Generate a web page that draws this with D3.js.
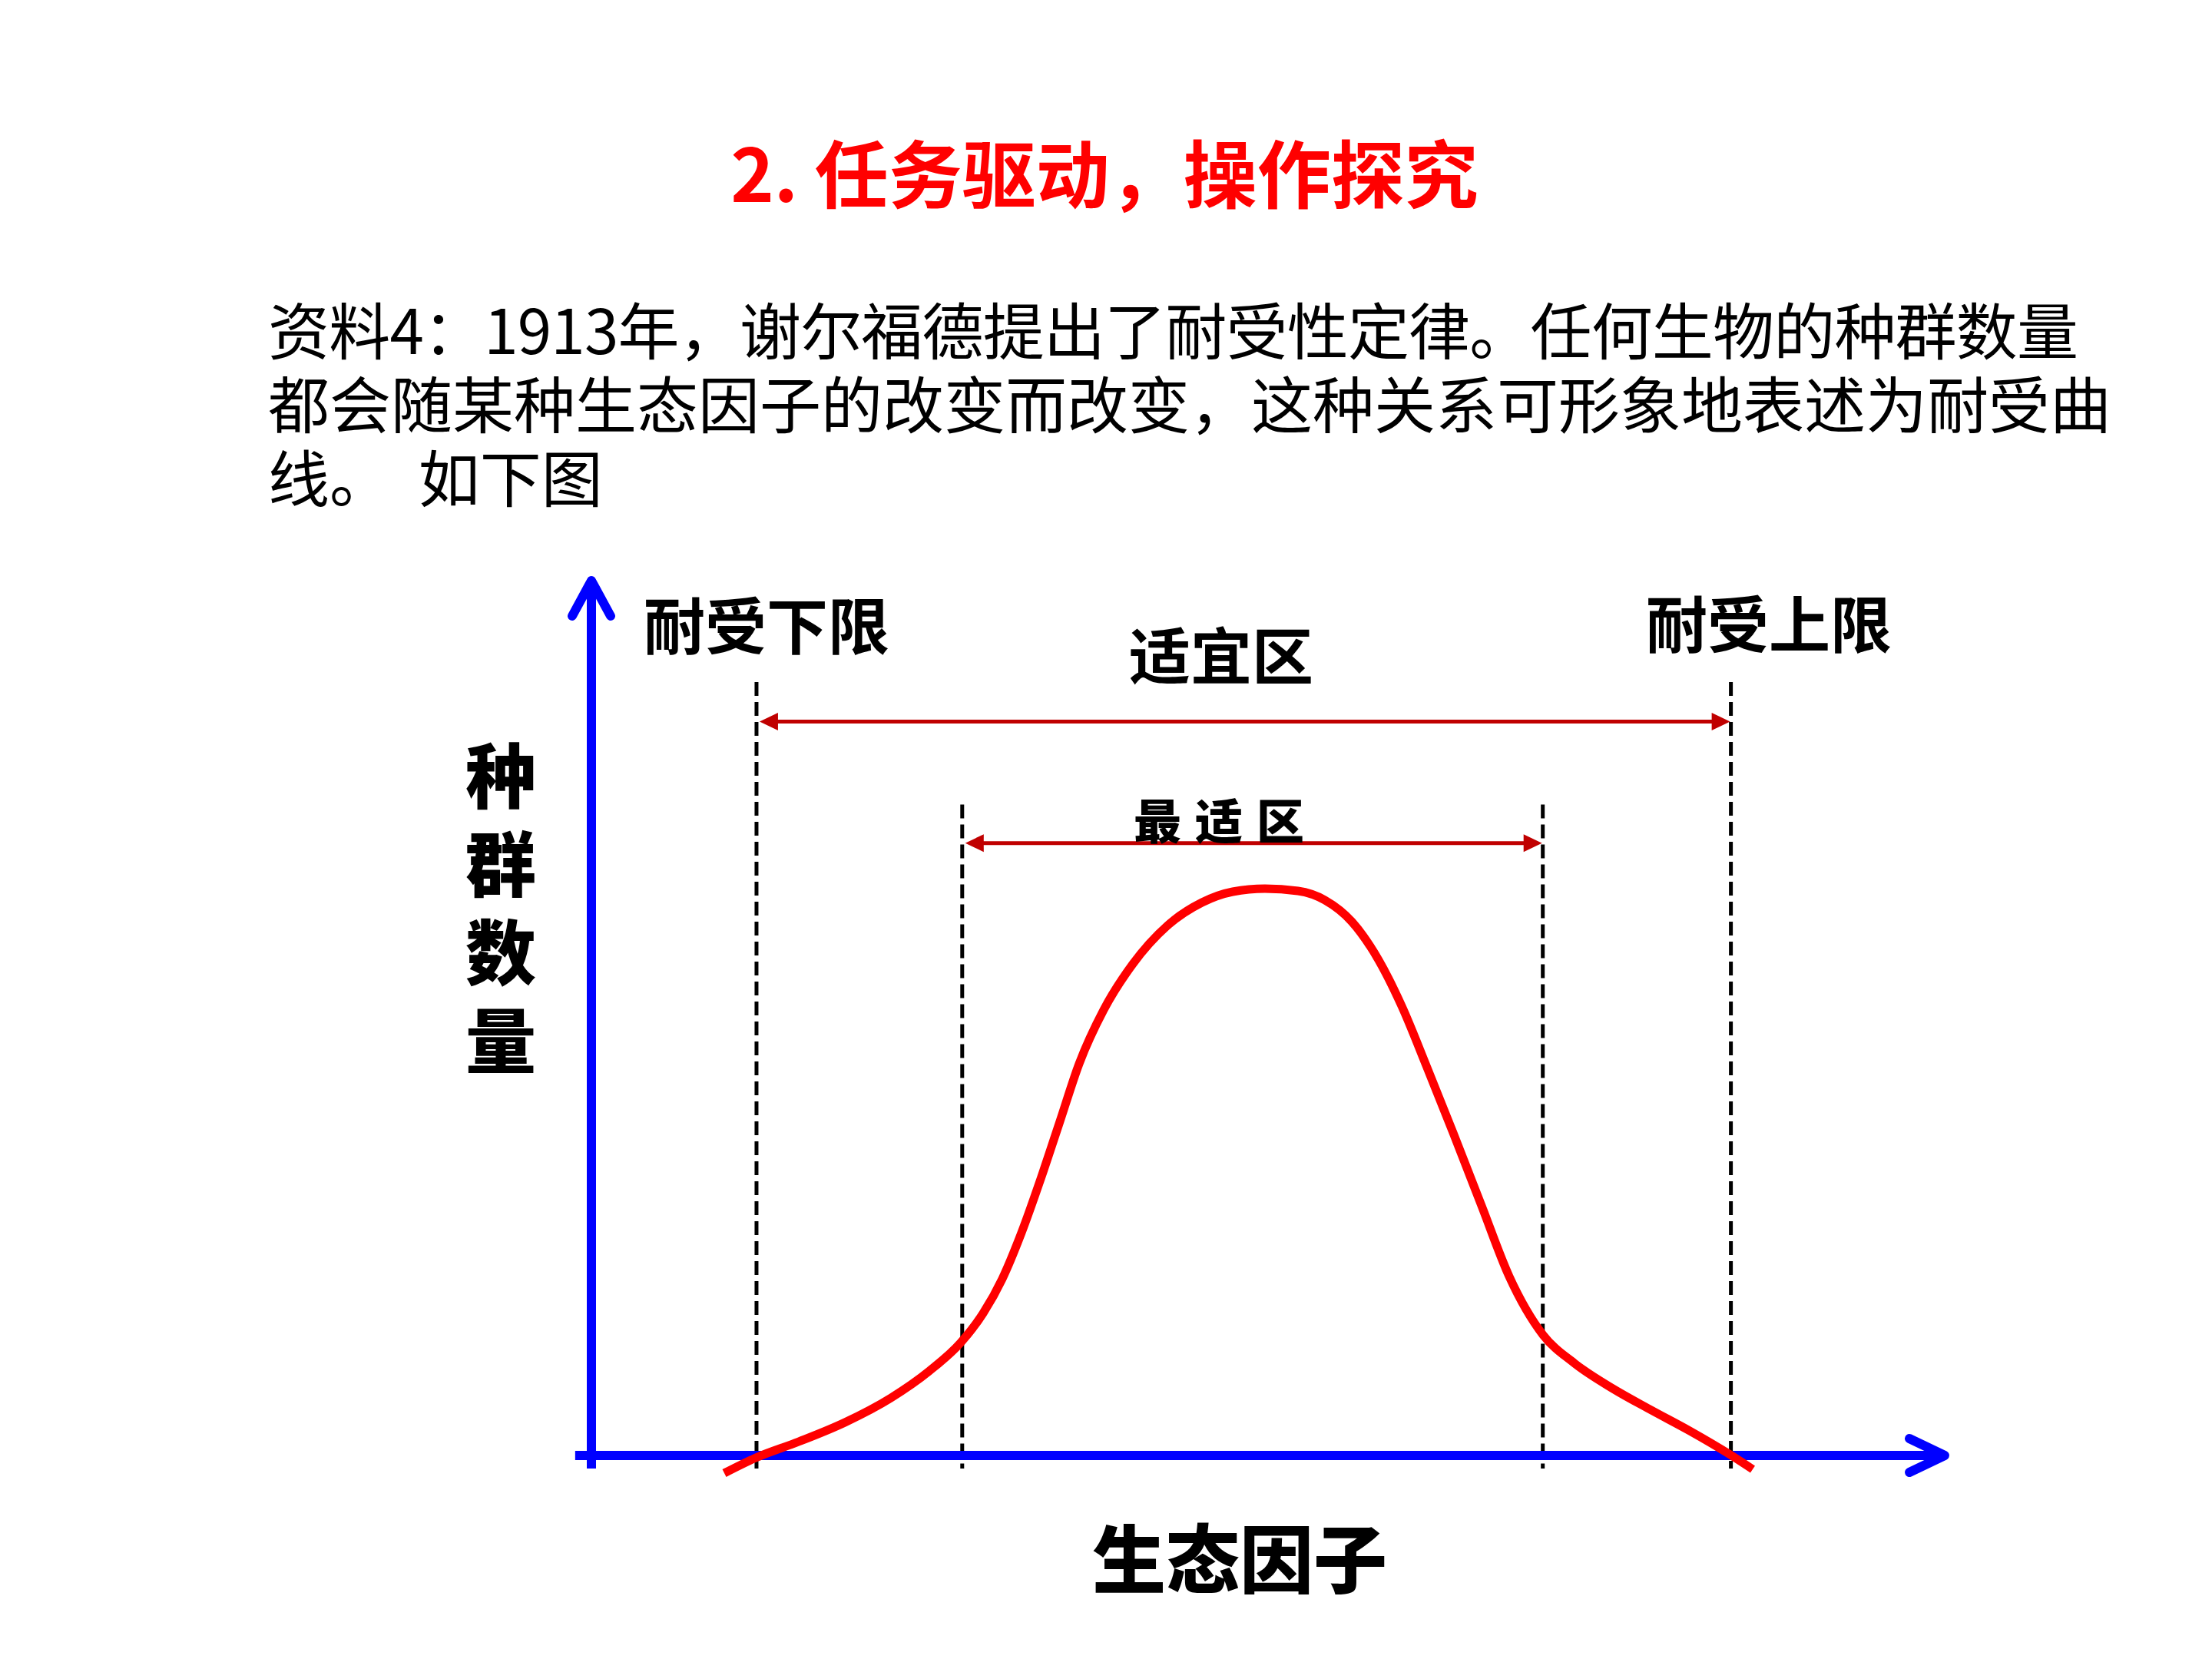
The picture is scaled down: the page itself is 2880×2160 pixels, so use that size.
<!DOCTYPE html>
<html lang="zh">
<head>
<meta charset="utf-8">
<title>耐受曲线</title>
<script src="https://d3js.org/d3.v7.min.js"></script>
<style>
  body { margin: 0; background: #fff; }
  svg { display: block; background: #fff; }
  text { font-family: "Noto Sans CJK SC", "Noto Sans", sans-serif; }
  .title { font-size: 96px; font-weight: 700; fill: #ff0000; }
  .para { font-size: 80px; fill: #000; white-space: pre; }
  .label { font-size: 80px; font-weight: 700; fill: #000; }
  .big { font-size: 92px; font-weight: 900; fill: #000; }
  .xtitle { font-size: 96px; }
  .small { font-size: 62px; font-weight: 900; fill: #000; letter-spacing: 18px; }
</style>
</head>
<body>
<script>
// ---- data ----
var titleText = "2. 任务驱动，操作探究";
var paraLines = [
  "资料4：1913年，谢尔福德提出了耐受性定律。任何生物的种群数量",
  "都会随某种生态因子的改变而改变，这种关系可形象地表述为耐受曲",
  "线。  如下图"
];
var xTitle = "生态因子";
var yTitle = ["种", "群", "数", "量"];

// ecological factor value vs population
var curveFactor = [9.82, 12.15, 15.32, 18.73, 22.13, 24.97, 27.30, 28.94, 30.36, 31.78, 33.20, 34.62,
                   36.04, 37.85, 40.01, 42.57, 45.12, 47.39, 49.77, 52.21, 54.20, 56.19, 58.17, 59.88,
                   61.75, 63.68, 65.78, 67.82, 70.32, 72.64, 75.48, 78.32, 81.16, 84.05, 85.81];
var curvePopulation = [-2.02, -0.26, 1.58, 3.78, 6.58, 9.66, 12.91, 16.24, 20.19, 25.46, 31.61, 38.19,
                       44.78, 50.92, 56.19, 60.58, 63.21, 64.44, 64.79, 64.53, 63.48, 61.02, 56.63, 51.36,
                       44.34, 36.87, 28.53, 20.46, 13.78, 10.54, 7.64, 5.18, 2.81, 0.18, -1.58];

var toleranceLimits = [12.2, 84.2];   // 耐受下限, 耐受上限
var optimumLimits = [27.4, 70.3];     // 最适区
var limitLabels = ["耐受下限", "耐受上限"];
var zoneLabels = ["适宜区", "最适区"];
var zoneArrowLevels = [83.9, 70.0];
var zoneLineTops = [88.4, 74.4];

// ---- layout ----
var W = 2880, H = 2160;
var svg = d3.select("body").append("svg")
    .attr("width", W).attr("height", H);

var x = d3.scaleLinear().domain([0, 100]).range([770, 2532]);
var y = d3.scaleLinear().domain([0, 100]).range([1895, 756]);

// title
svg.append("text").attr("class", "title")
    .attr("x", 1438).attr("y", 221)
    .attr("text-anchor", "middle").attr("dominant-baseline", "central")
    .text(titleText);

// paragraph
svg.selectAll("text.para").data(paraLines).enter().append("text")
    .attr("class", "para")
    .attr("x", 349)
    .attr("y", function (d, i) { return 426 + i * 96; })
    .attr("dominant-baseline", "central")
    .attr("textLength", function (d, i) { return i === 0 ? 2357 : null; })
    .attr("lengthAdjust", "spacing")
    .text(function (d) { return d; });

// dashed limit lines
var dashed = svg.append("g")
    .attr("stroke", "#000").attr("stroke-width", 5).attr("stroke-dasharray", "18,8");
[toleranceLimits, optimumLimits].forEach(function (lims, k) {
  lims.forEach(function (v) {
    dashed.append("line")
        .attr("x1", x(v)).attr("x2", x(v))
        .attr("y1", y(zoneLineTops[k])).attr("y2", y(-1.5));
  });
});

// axes
var blue = "#0000ff";
var axes = svg.append("g").attr("stroke", blue).attr("stroke-width", 12)
    .attr("fill", "none").attr("stroke-linecap", "round").attr("stroke-linejoin", "round");
axes.append("line")
    .attr("x1", x(0)).attr("x2", x(0))
    .attr("y1", y(-1.5)).attr("y2", y(100) + 4)
    .attr("stroke-linecap", "butt");
axes.append("line")
    .attr("x1", x(-1.2)).attr("x2", x(100) - 4)
    .attr("y1", y(0)).attr("y2", y(0))
    .attr("stroke-linecap", "butt");
axes.append("path")
    .attr("d", d3.line()([[x(0) - 25, y(100) + 46], [x(0), y(100)], [x(0) + 25, y(100) + 46]]));
axes.append("path")
    .attr("d", d3.line()([[x(100) - 46, y(0) - 22], [x(100), y(0)], [x(100) - 46, y(0) + 22]]));

// tolerance curve
var pts = curveFactor.map(function (f, i) { return [f, curvePopulation[i]]; });
svg.append("path")
    .datum(pts)
    .attr("fill", "none")
    .attr("stroke", "#ff0000")
    .attr("stroke-width", 11)
    .attr("d", d3.line()
        .x(function (d) { return x(d[0]); })
        .y(function (d) { return y(d[1]); })
        .curve(d3.curveMonotoneX));

// zone double arrows
var darkRed = "#c00000";
[toleranceLimits, optimumLimits].forEach(function (lims, k) {
  var yy = y(zoneArrowLevels[k]);
  var x0 = x(lims[0]) + 4, x1 = x(lims[1]) - 1;
  var g = svg.append("g");
  g.append("line")
      .attr("x1", x0 + 20).attr("x2", x1 - 20)
      .attr("y1", yy).attr("y2", yy)
      .attr("stroke", darkRed).attr("stroke-width", 5);
  g.append("path").attr("fill", darkRed)
      .attr("d", d3.line()([[x0, yy], [x0 + 24, yy - 11.5], [x0 + 24, yy + 11.5]]) + "Z");
  g.append("path").attr("fill", darkRed)
      .attr("d", d3.line()([[x1, yy], [x1 - 24, yy - 11.5], [x1 - 24, yy + 11.5]]) + "Z");
});

// labels
svg.append("text").attr("class", "label")
    .attr("x", 998).attr("y", 810)
    .attr("text-anchor", "middle").attr("dominant-baseline", "central")
    .text(limitLabels[0]);
svg.append("text").attr("class", "label")
    .attr("x", 2303).attr("y", 808)
    .attr("text-anchor", "middle").attr("dominant-baseline", "central")
    .text(limitLabels[1]);
svg.append("text").attr("class", "label")
    .attr("x", 1590).attr("y", 849)
    .attr("text-anchor", "middle").attr("dominant-baseline", "central")
    .text(zoneLabels[0]);
svg.append("text").attr("class", "small")
    .attr("x", 1596).attr("y", 1066)
    .attr("text-anchor", "middle").attr("dominant-baseline", "central")
    .text(zoneLabels[1]);

// axis titles
svg.selectAll("text.ytitle").data(yTitle).enter().append("text")
    .attr("class", "big ytitle")
    .attr("x", 652)
    .attr("y", function (d, i) { return 1004 + i * 115; })
    .attr("text-anchor", "middle").attr("dominant-baseline", "central")
    .text(function (d) { return d; });

svg.append("text").attr("class", "big xtitle")
    .attr("x", 1614).attr("y", 2024)
    .attr("text-anchor", "middle").attr("dominant-baseline", "central")
    .text(xTitle);
</script>
</body>
</html>
